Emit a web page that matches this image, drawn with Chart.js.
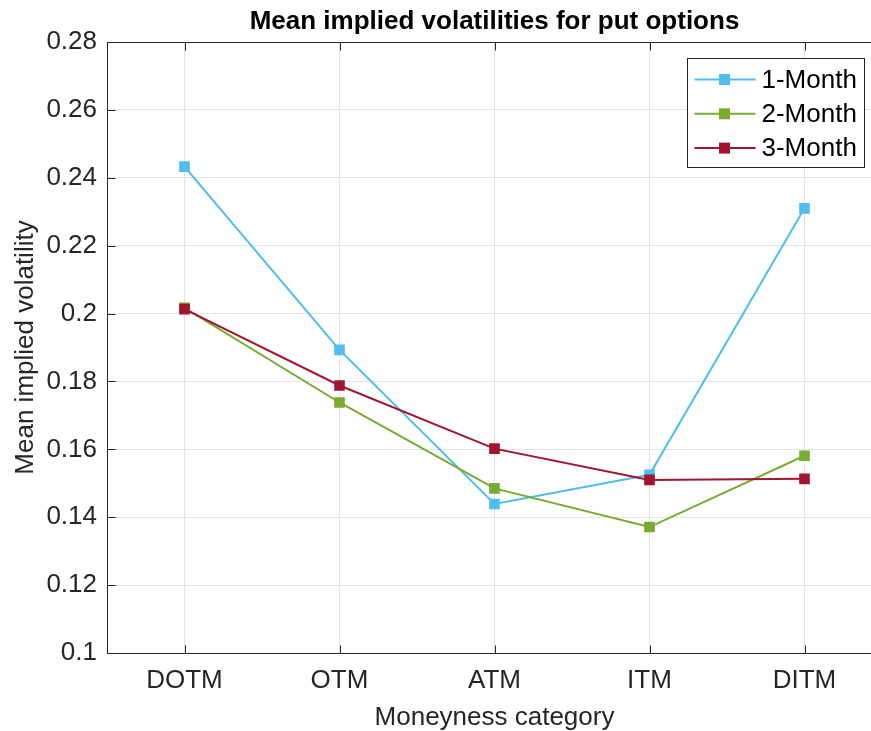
<!DOCTYPE html>
<html>
<head>
<meta charset="utf-8">
<title>Mean implied volatilities for put options</title>
<script src="https://cdn.jsdelivr.net/npm/chart.js@4/dist/chart.umd.min.js"></script>
<style>
  html, body { margin: 0; padding: 0; background: #fff; overflow: hidden; }
  #wrap { width: 900px; height: 731px; }
</style>
</head>
<body>
<div id="wrap"><canvas id="volChart" width="900" height="731"></canvas></div>
<script>
const categories = ['DOTM', 'OTM', 'ATM', 'ITM', 'DITM'];
const month1 = [0.2433, 0.1893, 0.1439, 0.1525, 0.2310];
const month2 = [0.2017, 0.1738, 0.1485, 0.1371, 0.1581];
const month3 = [0.2013, 0.1788, 0.1602, 0.1510, 0.1513];
const seriesNames = ['1-Month', '2-Month', '3-Month'];
const seriesColors = ['#4DBEEE', '#77AC30', '#A2142F'];
const yMin = 0.1, yMax = 0.28, yStep = 0.02;

const FONT = '"Liberation Sans", Arial, Helvetica, sans-serif';
const AXIS_COLOR = '#262626';

// box around the axes with inward ticks, like matlab
const boxPlugin = {
    id: 'boxPlugin',
    afterDraw(chart) {
        const ctx = chart.ctx;
        const a = chart.chartArea;
        const l = Math.round(a.left) + 0.5, r = Math.round(a.right) + 0.5;
        const t = Math.round(a.top) + 0.5, b = Math.round(a.bottom) + 0.5;
        const len = 8;
        ctx.save();
        ctx.strokeStyle = AXIS_COLOR;
        ctx.lineWidth = 1;
        ctx.strokeRect(l, t, r - l, b - t);
        ctx.beginPath();
        chart.scales.y.ticks.forEach((tk, i) => {
            const y = Math.round(chart.scales.y.getPixelForTick(i)) + 0.5;
            ctx.moveTo(l, y); ctx.lineTo(l + len, y);
            ctx.moveTo(r, y); ctx.lineTo(r - len, y);
        });
        categories.forEach((c, i) => {
            const x = Math.round(chart.scales.x.getPixelForValue(i)) + 0.5;
            ctx.moveTo(x, b); ctx.lineTo(x, b - len);
            ctx.moveTo(x, t); ctx.lineTo(x, t + len);
        });
        ctx.stroke();
        ctx.restore();
    }
};

// legend in the upper right corner of the axes
const legendPlugin = {
    id: 'legendPlugin',
    afterDraw(chart) {
        const ctx = chart.ctx;
        const a = chart.chartArea;
        const boxR = Math.round(a.right) - 17.5;
        const boxL = boxR - 177;
        const boxT = Math.round(a.top) + 16.5;
        const rowH = 34.3;
        const boxH = 109;
        ctx.save();
        ctx.fillStyle = '#fff';
        ctx.fillRect(boxL, boxT, boxR - boxL, boxH);
        ctx.strokeStyle = AXIS_COLOR;
        ctx.lineWidth = 1;
        ctx.strokeRect(boxL, boxT, boxR - boxL, boxH);
        ctx.font = '26px ' + FONT;
        ctx.textBaseline = 'middle';
        ctx.textAlign = 'left';
        chart.data.datasets.forEach((ds, i) => {
            const y = boxT + 21 + i * rowH;
            ctx.strokeStyle = ds.borderColor;
            ctx.lineWidth = 2;
            ctx.beginPath();
            ctx.moveTo(boxL + 7, y);
            ctx.lineTo(boxL + 68, y);
            ctx.stroke();
            ctx.fillStyle = ds.borderColor;
            ctx.fillRect(boxL + 37 - 5.5, y - 5.5, 11, 11);
            ctx.fillStyle = '#000';
            ctx.fillText(ds.label, boxL + 74, y + 1);
        });
        ctx.restore();
    }
};

const makeSet = (i, values) => ({
    label: seriesNames[i],
    data: values,
    borderColor: seriesColors[i],
    backgroundColor: seriesColors[i],
    borderWidth: 2,
    pointStyle: 'rect',
    pointRadius: 7.5,
    pointBorderWidth: 0,
    pointHoverRadius: 7.5,
    tension: 0,
    order: 3 - i
});

const volData = {
    labels: categories,
    datasets: [makeSet(0, month1), makeSet(1, month2), makeSet(2, month3)]
};

const volOptions = {
    responsive: false,
    animation: false,
    devicePixelRatio: 1,
    layout: { padding: { left: 0, right: 18, top: 0, bottom: 0 } },
    plugins: {
        legend: { display: false },
        tooltip: { enabled: false },
        title: {
            display: true,
            fullSize: false,
            text: 'Mean implied volatilities for put options',
            color: '#000',
            font: { family: FONT, size: 26, weight: 'bold' },
            padding: { top: 6, bottom: 4.8 }
        }
    },
    scales: {
        x: {
            type: 'category',
            offset: true,
            afterFit: (scale) => { scale.height = 78; },
            grid: { offset: false, drawTicks: false, color: '#e3e3e3' },
            border: { display: false },
            ticks: { color: AXIS_COLOR, padding: 12, font: { family: FONT, size: 26 } },
            title: {
                display: true,
                text: 'Moneyness category',
                color: AXIS_COLOR,
                font: { family: FONT, size: 26 },
                padding: { top: 0, bottom: -2 }
            }
        },
        y: {
            type: 'linear',
            min: yMin,
            max: yMax,
            afterFit: (scale) => { scale.width = 107; },
            grid: { drawTicks: false, color: '#e3e3e3' },
            border: { display: false },
            ticks: {
                stepSize: yStep,
                color: AXIS_COLOR,
                padding: 10,
                font: { family: FONT, size: 26 },
                callback: (v) => String(+v.toFixed(2))
            },
            title: {
                display: true,
                text: 'Mean implied volatility',
                color: AXIS_COLOR,
                font: { family: FONT, size: 26 },
                padding: { top: 10, bottom: 0 }
            }
        }
    }
};

const volChart = new Chart(document.getElementById('volChart'), {
    type: 'line',
    data: volData,
    options: volOptions,
    plugins: [boxPlugin, legendPlugin]
});
</script>
</body>
</html>
